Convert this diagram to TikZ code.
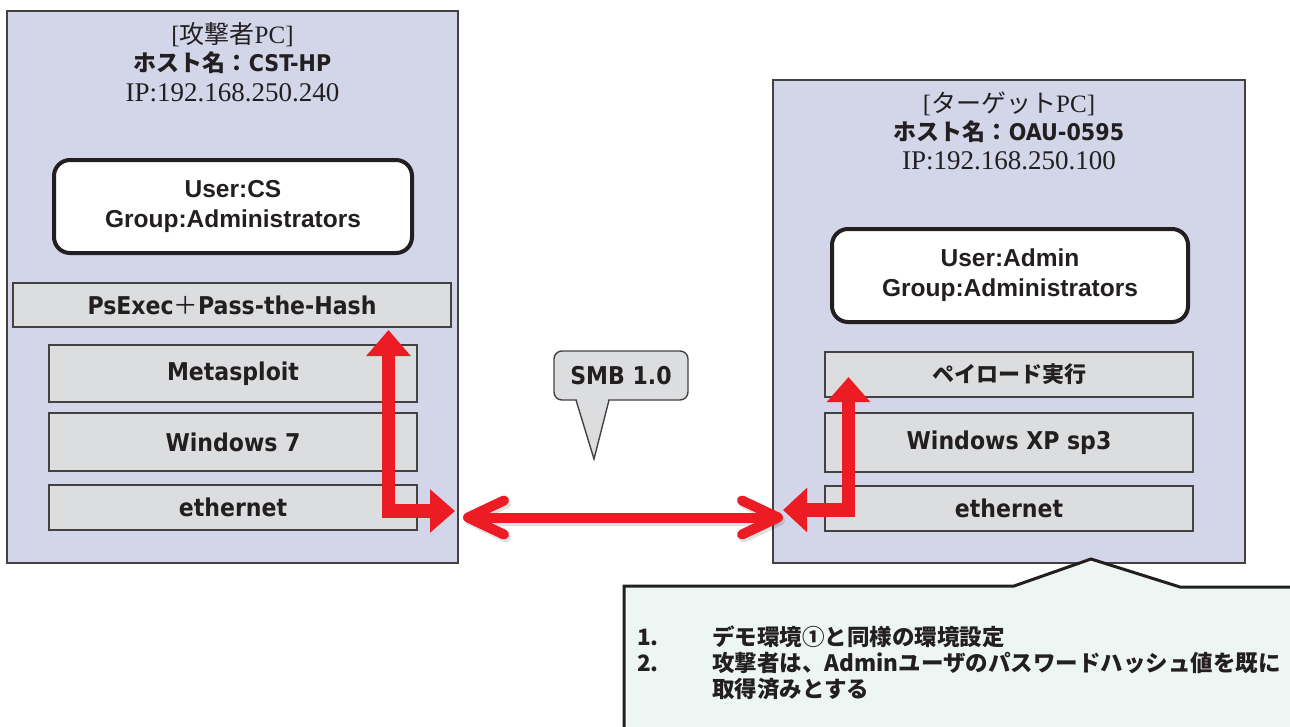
\documentclass[tikz,border=0pt]{standalone}
\usepackage{fontspec}
\setmainfont{Liberation Serif}
\newfontfamily\jp{Noto Sans CJK JP}
\newfontfamily\tah{DejaVu Sans Condensed}
\newfontfamily\arl{Liberation Sans}
\usetikzlibrary{arrows.meta}
\definecolor{lav}{HTML}{D3D5E9}
\definecolor{layergray}{HTML}{DCDDDF}
\definecolor{notefill}{HTML}{EEF6F3}
\definecolor{ink}{HTML}{231F20}
\definecolor{arrowred}{HTML}{ED1C24}
\tikzset{
  pcbox/.style={draw=ink!85, line width=1.6, fill=lav, inner sep=0},
  titlea/.style={inner sep=0, text=ink, font=\fontsize{25}{28}\selectfont},
  titleb/.style={inner sep=0, text=ink, font=\fontsize{23}{28}\selectfont},
  titlec/.style={inner sep=0, text=ink, font=\fontsize{27}{30}\selectfont},
  userbox/.style={draw=ink, line width=4, fill=white, rounded corners=16, align=center,
    inner sep=0, text=ink, font=\arl\bfseries\fontsize{24.5}{30}\selectfont},
  layer/.style={draw=ink!85, line width=1.4, fill=layergray, inner sep=0, text=ink,
    font=\tah\bfseries\fontsize{24.5}{28}\selectfont},
  smbbox/.style={draw=ink!85, line width=1.4, fill=layergray, rounded corners=8, inner sep=0,
    text=ink, font=\tah\bfseries\fontsize{24.5}{28}\selectfont},
  blockarrow/.style={draw=arrowred, line width=13.5, line join=miter},
  netarrow/.style={draw=arrowred, line width=10, line cap=round,
    {Straight Barb[length=36pt,width=34pt,round]}-{Straight Barb[length=36pt,width=34pt,round]}},
  notebox/.style={draw=ink, line width=3, fill=notefill, line join=miter},
  notetext/.style={inner sep=0, anchor=west, text=ink, font=\jp\bfseries\fontsize{22.5}{26}\selectfont}
}
\begin{document}
\begin{tikzpicture}[x=1pt,y=-1pt]
\useasboundingbox (0,0) rectangle (1290,726);
\clip (0,0) rectangle (1290,726);
\fill[white] (0,0) rectangle (1290,726);

% attacker PC
\node[pcbox, minimum width=451, minimum height=552] (atk) at (232.5,287) {};
\node[titlea] (atkt1) at (232.5,35) {[{\jp 攻撃者}PC]};
\node[titleb] (atkt2) at (232.5,63) {{\jp\bfseries ホスト名：}{\tah\bfseries CST-HP}};
\node[titlec] (atkt3) at (232.5,93) {IP:192.168.250.240};
\node[userbox, minimum width=358, minimum height=93] (atku) at (233,206.5) {User:CS\\Group:Administrators};
\node[layer, minimum width=438, minimum height=44] (psexec) at (232,305) {PsExec{\jp\mdseries ＋}Pass-the-Hash};
\node[layer, minimum width=368, minimum height=57] (meta) at (233,373.5) {Metasploit};
\node[layer, minimum width=368, minimum height=58] (win7) at (233,442) {Windows 7};
\node[layer, minimum width=368, minimum height=45] (eth1) at (233,507.5) {ethernet};

% target PC
\node[pcbox, minimum width=472, minimum height=483] (tgt) at (1009,321.5) {};
\node[titlea] (tgtt1) at (1009,104) {[{\jp ターゲット}PC]};
\node[titleb] (tgtt2) at (1009,132) {{\jp\bfseries ホスト名：}{\tah\bfseries OAU-0595}};
\node[titlec] (tgtt3) at (1009,161) {IP:192.168.250.100};
\node[userbox, minimum width=356, minimum height=93] (tgtu) at (1010,275.5) {User:Admin\\Group:Administrators};
\node[layer, minimum width=368, minimum height=45, font=\jp\bfseries\fontsize{22}{26}\selectfont] (payload) at (1009,374.5) {ペイロード実行};
\node[layer, minimum width=368, minimum height=59] (winxp) at (1009,442.5) {Windows XP sp3};
\node[layer, minimum width=368, minimum height=45] (eth2) at (1009,508.5) {ethernet};

% SMB callout
\node[smbbox, minimum width=134, minimum height=49] (smb) at (621,375.5) {SMB 1.0};
\coordinate (smbtip) at (594,459);
\fill[layergray] (576.5,398) -- (smbtip) -- (608.5,398) -- cycle;
\draw[ink!85, line width=1.4, line join=miter] (576,400) -- (smbtip) -- (609,400);

% red arrows
\coordinate (lup) at (388.5,330);
\coordinate (lright) at (455,511);
\draw[blockarrow, {Triangle[length=26pt,width=43pt]}-{Triangle[length=25pt,width=42pt]}] (lup) |- (lright);
\coordinate (rup) at (848.5,377);
\coordinate (rleft) at (783,510);
\draw[blockarrow, {Triangle[length=25pt,width=42pt]}-{Triangle[length=24pt,width=43pt]}] (rup) |- (rleft);
\coordinate (ml) at (463,517.5);
\coordinate (mr) at (783,517.5);
\draw[netarrow, draw=black, opacity=0.12, transform canvas={shift={(2,3)}}] (ml) -- (mr);
\draw[netarrow] (ml) -- (mr);

% note callout
\draw[notebox] (624,740) -- (624,586) -- (1014,586) -- (1091,559) -- (1180,587) -- (1300,587) -- (1300,740) -- cycle;
\node[notetext] (n1a) at (637,637) {1.};
\node[notetext] (n1b) at (712,637) {デモ環境①と同様の環境設定};
\node[notetext] (n2a) at (637,663) {2.};
\node[notetext] (n2b) at (712,663) {攻撃者は、Adminユーザのパスワードハッシュ値を既に};
\node[notetext] (n2c) at (712,689) {取得済みとする};
\end{tikzpicture}
\end{document}
